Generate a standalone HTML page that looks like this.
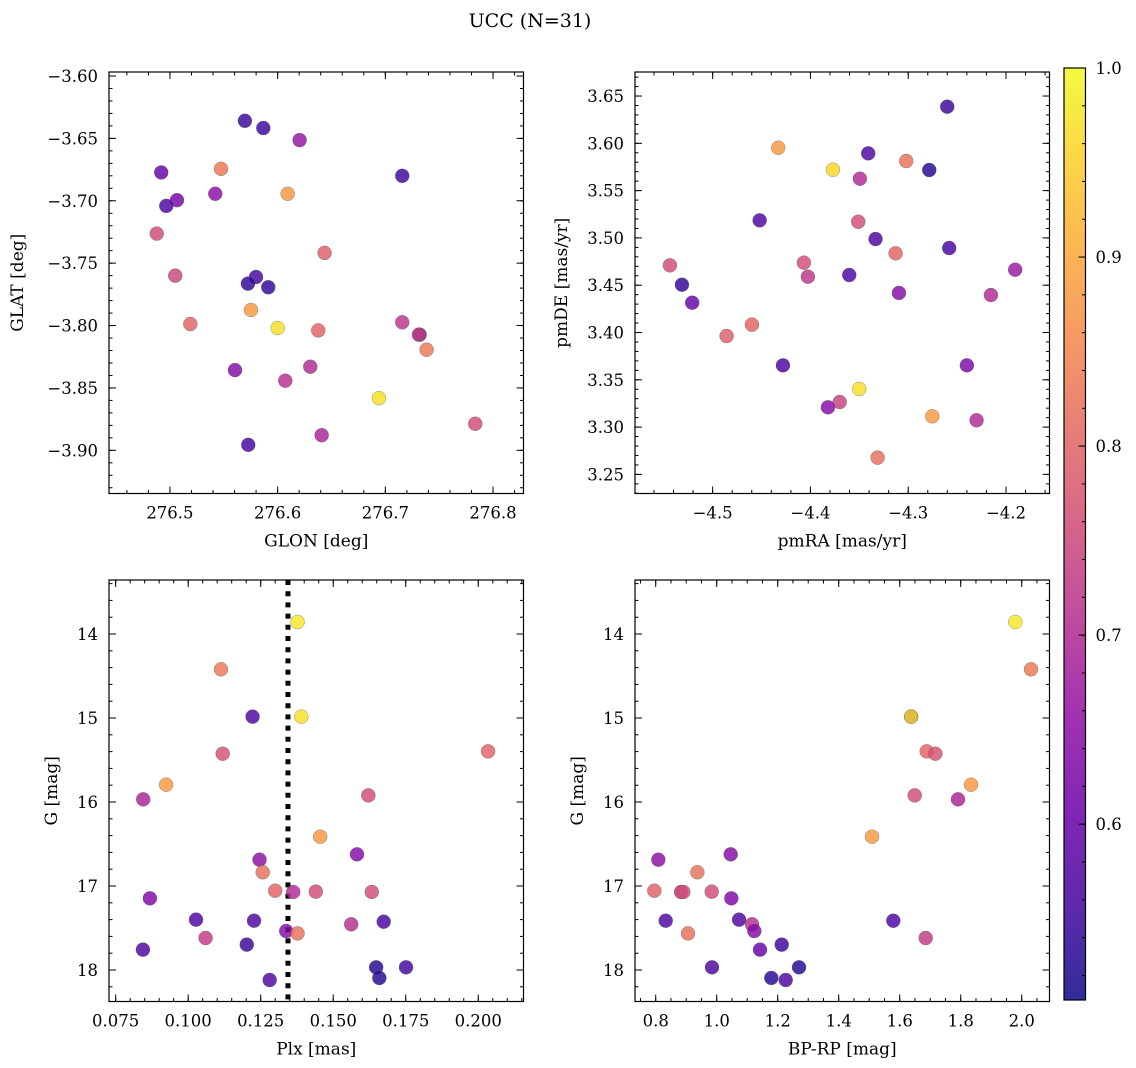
<!DOCTYPE html>
<html><head><meta charset="utf-8">
<style>
html,body{margin:0;padding:0;background:#fff;}
svg{display:block;font-family:"DejaVu Serif","Liberation Serif",serif;}
</style></head>
<body>
<svg id="chart" width="1136" height="1068" viewBox="0 0 1136 1068" xmlns="http://www.w3.org/2000/svg">
<defs>
<linearGradient id="plasma" x1="0" y1="1" x2="0" y2="0"></linearGradient>
</defs>
<text x="530" y="27" text-anchor="middle" font-size="19">UCC (N=31)</text>
<g id="plots"></g>
</svg>
<script>
// ---- Panel 1: GLON vs GLAT ----
const glon = [276.5696,276.5867,276.6204,276.4919,276.5474,276.7157,276.5421,276.6093,276.5065,276.4966,276.4877,276.6436,276.5049,276.5799,276.5724,276.5913,276.5752,276.5189,276.6000,276.6377,276.7157,276.7318,276.7312,276.7383,276.5604,276.6303,276.6071,276.6941,276.7835,276.5727,276.6409];
const glat = [-3.6359,-3.6417,-3.6514,-3.6773,-3.6744,-3.6800,-3.6944,-3.6944,-3.6995,-3.7041,-3.7263,-3.7418,-3.7600,-3.7611,-3.7664,-3.7693,-3.7875,-3.7988,-3.8020,-3.8039,-3.7974,-3.8073,-3.8073,-3.8194,-3.8357,-3.8330,-3.8442,-3.8582,-3.8787,-3.8956,-3.8879];
const probTL = [0.55,0.55,0.66,0.60,0.83,0.55,0.65,0.88,0.62,0.57,0.76,0.79,0.75,0.56,0.54,0.54,0.88,0.80,0.97,0.80,0.72,0.55,0.74,0.83,0.64,0.70,0.71,0.97,0.76,0.56,0.69];
// ---- Panel 2: pmRA vs pmDE ----
const pmra = [-4.2601,-4.4329,-4.3409,-4.3020,-4.3770,-4.2785,-4.3494,-4.4519,-4.3511,-4.3334,-4.3129,-4.2581,-4.5437,-4.4067,-4.4026,-4.3603,-4.1906,-4.5314,-4.5209,-4.3095,-4.2154,-4.4598,-4.4857,-4.4281,-4.2400,-4.3501,-4.3701,-4.3821,-4.2754,-4.2301,-4.3313];
const pmde = [3.6387,3.5953,3.5894,3.5813,3.5721,3.5718,3.5626,3.5186,3.5171,3.4988,3.4837,3.4893,3.4710,3.4738,3.4590,3.4608,3.4664,3.4505,3.4315,3.4418,3.4396,3.4083,3.3963,3.3653,3.3653,3.3403,3.3265,3.3209,3.3114,3.3072,3.2677];
const probTR = [0.55,0.88,0.57,0.82,0.96,0.53,0.70,0.57,0.76,0.57,0.80,0.56,0.76,0.76,0.72,0.57,0.67,0.54,0.60,0.64,0.70,0.80,0.79,0.57,0.63,0.97,0.74,0.64,0.88,0.70,0.82];
// ---- Panel 3: Plx vs G ----
const plx = [0.1377,0.1113,0.1222,0.1390,0.1119,0.2034,0.0924,0.0845,0.1621,0.1455,0.1582,0.1246,0.1257,0.1300,0.1362,0.1440,0.1633,0.0868,0.1027,0.1227,0.1562,0.1674,0.1338,0.1377,0.1060,0.1202,0.0844,0.1648,0.1751,0.1659,0.1281];
const gPlx = [13.857,14.420,14.984,14.984,15.425,15.397,15.794,15.968,15.921,16.413,16.623,16.687,16.837,17.056,17.071,17.067,17.071,17.147,17.401,17.413,17.456,17.425,17.536,17.564,17.619,17.698,17.758,17.968,17.968,18.095,18.119];
const probBL = [0.98,0.83,0.57,0.97,0.77,0.80,0.88,0.69,0.76,0.88,0.64,0.65,0.82,0.80,0.70,0.76,0.76,0.63,0.57,0.57,0.71,0.56,0.64,0.82,0.73,0.55,0.57,0.53,0.56,0.53,0.57];
const plxLine = [0.1344];
// ---- Panel 4: BP-RP vs G ----
const bprp = [1.979,2.0305,1.6374,1.6374,1.6885,1.7168,1.8338,1.7911,1.6492,1.5092,1.0459,0.8086,0.9365,0.7955,0.8830,0.8906,0.9836,1.0480,0.8328,1.0732,1.5790,1.1157,1.1233,0.9059,1.6852,1.1420,1.2131,0.9846,1.2698,1.1790,1.2262];
const gCmd = [13.857,14.420,14.984,14.984,15.397,15.425,15.794,15.968,15.921,16.413,16.623,16.687,16.837,17.056,17.071,17.071,17.067,17.147,17.413,17.401,17.413,17.456,17.536,17.564,17.619,17.758,17.698,17.968,17.968,18.095,18.119];
const probBR = [0.98,0.83,0.57,0.97,0.80,0.77,0.88,0.69,0.76,0.88,0.64,0.65,0.82,0.80,0.73,0.76,0.76,0.63,0.57,0.57,0.57,0.71,0.64,0.82,0.73,0.60,0.55,0.57,0.53,0.53,0.57];
// ---- Tick labels ----
const ticksGlon = [276.5,276.6,276.7,276.8];
const ticksGlat = [-3.60,-3.65,-3.70,-3.75,-3.80,-3.85,-3.90];
const ticksPmra = [-4.5,-4.4,-4.3,-4.2];
const ticksPmde = [3.25,3.30,3.35,3.40,3.45,3.50,3.55,3.60,3.65];
const ticksPlx = [0.075,0.100,0.125,0.150,0.175,0.200];
const ticksG = [14,15,16,17,18];
const ticksBprp = [0.8,1.0,1.2,1.4,1.6,1.8,2.0];
const ticksCbar = [0.6,0.7,0.8,0.9,1.0];

const NS = "http://www.w3.org/2000/svg";
const root = document.getElementById('plots');
const plasmaStops = [[0,'#0d0887'],[0.1,'#41049d'],[0.2,'#6a00a8'],[0.3,'#8f0da4'],[0.4,'#b12a90'],[0.5,'#cc4778'],[0.6,'#e16462'],[0.7,'#f2844b'],[0.8,'#fca636'],[0.9,'#fcce25'],[1,'#f0f921']];
const VMIN = 0.507, VMAX = 1.0;
const TICKFS = 16.5, LABFS = 17;
function hex(c){return [parseInt(c.substr(1,2),16),parseInt(c.substr(3,2),16),parseInt(c.substr(5,2),16)];}
function plasma(t){
  t=Math.max(0,Math.min(1,t));
  for(let i=0;i<plasmaStops.length-1;i++){
    const a=plasmaStops[i],b=plasmaStops[i+1];
    if(t<=b[0]){const f=(t-a[0])/(b[0]-a[0]);const ca=hex(a[1]),cb=hex(b[1]);
      return 'rgb('+ca.map((v,k)=>Math.round(v+(cb[k]-v)*f)).join(',')+')';}
  }
  return plasmaStops[plasmaStops.length-1][1];
}
function cmap(v){return plasma((v-VMIN)/(VMAX-VMIN));}
function mk(tag,attrs,parent){const e=document.createElementNS(NS,tag);for(const k in attrs)e.setAttribute(k,attrs[k]);(parent||root).appendChild(e);return e;}
function fmt(v,d){const s=Math.abs(v).toFixed(d);return (v<0?'\u2212':'')+s;}

function panel(cfg){
  const g=mk('g',{});
  
  
  const {x0,x1,y0,y1,xd,yd}=cfg;
  const sx=v=>x0+(v-xd[0])/(xd[1]-xd[0])*(x1-x0);
  const sy=v=>cfg.yInv? y0+(v-yd[0])/(yd[1]-yd[0])*(y1-y0) : y1-(v-yd[0])/(yd[1]-yd[0])*(y1-y0);
  const tk=mk('g',{stroke:'#000','stroke-width':1},g);
  
  
  const lo=Math.min(...xd),hi=Math.max(...xd);
  for(let v=Math.ceil(lo/cfg.xMinor)*cfg.xMinor; v<=hi; v+=cfg.xMinor){const px=sx(v);
    mk('line',{x1:px,x2:px,y1:y1,y2:y1-3.5},tk);mk('line',{x1:px,x2:px,y1:y0,y2:y0+3.5},tk);}
  const ylo=Math.min(...yd),yhi=Math.max(...yd);
  for(let v=Math.ceil(ylo/cfg.yMinor)*cfg.yMinor; v<=yhi; v+=cfg.yMinor){const py=sy(v);
    mk('line',{x1:x0,x2:x0+3.5,y1:py,y2:py},tk);mk('line',{x1:x1,x2:x1-3.5,y1:py,y2:py},tk);}
  cfg.xt.forEach(v=>{const px=sx(v);
    mk('line',{x1:px,x2:px,y1:y1,y2:y1-7},tk);mk('line',{x1:px,x2:px,y1:y0,y2:y0+7},tk);
    const t=mk('text',{x:px,y:y1+25,'text-anchor':'middle','font-size':TICKFS},g);t.textContent=fmt(v,cfg.xd_dec);
    
    });
  cfg.yt.forEach(v=>{const py=sy(v);
    mk('line',{x1:x0,x2:x0+7,y1:py,y2:py},tk);mk('line',{x1:x1,x2:x1-7,y1:py,y2:py},tk);
    const t=mk('text',{x:x0-11,y:py+6,'text-anchor':'end','font-size':TICKFS},g);t.textContent=fmt(v,cfg.yd_dec);
    
    });
  if(cfg.vline){cfg.vline.forEach(v=>{const l=mk('line',{x1:sx(v),x2:sx(v),y1:y0,y2:y1,stroke:'#000','stroke-width':5,'stroke-dasharray':'5 6.2'},g);
    
    });}
  const pts=mk('g',{},g);
  
  
  cfg.xs.forEach((xv,i)=>{
    const c=mk('circle',{cx:sx(xv),cy:sy(cfg.ys[i]),r:7,fill:cmap(cfg.cs[i]),'fill-opacity':0.82,stroke:'#555','stroke-opacity':0.6,'stroke-width':0.5},pts);
    
    
  });
  const fr=mk('rect',{x:x0,y:y0,width:x1-x0,height:y1-y0,fill:'none',stroke:'#000','stroke-width':1.2},g);
  
  
  const xl=mk('text',{x:(x0+x1)/2,y:y1+53,'text-anchor':'middle','font-size':LABFS},g);xl.textContent=cfg.xlab;
  
  
  const yx=cfg.ylabX, yy=(y0+y1)/2;
  const yl=mk('text',{x:yx,y:yy,'text-anchor':'middle','font-size':LABFS,transform:'rotate(-90 '+yx+' '+yy+')'},g);yl.textContent=cfg.ylab;
  
  
}

panel({name:'glon-glat-panel',x0:109,x1:523.5,y0:72,y1:493.5,xd:[276.4434,276.8283],yd:[-3.9346,-3.5968],
  xt:ticksGlon,yt:ticksGlat,xMinor:0.02,yMinor:0.01,xd_dec:1,yd_dec:2,xs:glon,ys:glat,cs:probTL,
  xlab:'GLON [deg]',ylab:'GLAT [deg]',ylabX:23});
panel({name:'pm-panel',x0:635,x1:1049.5,y0:72,y1:493.5,xd:[-4.5794,-4.1555],yd:[3.2298,3.6754],
  xt:ticksPmra,yt:ticksPmde,xMinor:0.02,yMinor:0.01,xd_dec:1,yd_dec:2,xs:pmra,ys:pmde,cs:probTR,
  xlab:'pmRA [mas/yr]',ylab:'pmDE [mas/yr]',ylabX:567});
panel({name:'plx-g-panel',x0:109,x1:523.5,y0:580,y1:1001.5,xd:[0.0727,0.2156],yd:[13.357,18.375],yInv:true,
  xt:ticksPlx,yt:ticksG,xMinor:0.005,yMinor:0.2,xd_dec:3,yd_dec:0,xs:plx,ys:gPlx,cs:probBL,vline:plxLine,
  xlab:'Plx [mas]',ylab:'G [mag]',ylabX:57});
panel({name:'cmd-panel',x0:635,x1:1049.5,y0:580,y1:1001.5,xd:[0.7321,2.0911],yd:[13.357,18.375],yInv:true,
  xt:ticksBprp,yt:ticksG,xMinor:0.05,yMinor:0.2,xd_dec:1,yd_dec:0,xs:bprp,ys:gCmd,cs:probBR,
  xlab:'BP-RP [mag]',ylab:'G [mag]',ylabX:583});

(function(){
  const grad=document.getElementById('plasma');
  for(let i=0;i<=20;i++){const s=document.createElementNS(NS,'stop');s.setAttribute('offset',i/20);s.setAttribute('stop-color',plasma(i/20));grad.appendChild(s);}
  const g=mk('g',{});
  
  
  const cx0=1064,cx1=1085.5,cy0=68,cy1=1000;
  const sy=v=>cy1-(v-VMIN)/(VMAX-VMIN)*(cy1-cy0);
  mk('rect',{x:cx0,y:cy0,width:cx1-cx0,height:cy1-cy0,fill:'url(#plasma)','fill-opacity':0.85},g);
  for(let v=0.52; v<=1.0001; v+=0.02){const py=sy(v);mk('line',{x1:cx1,x2:cx1-3.5,y1:py,y2:py,stroke:'#000'},g);}
  ticksCbar.forEach(v=>{const py=sy(v);mk('line',{x1:cx1,x2:cx1-7,y1:py,y2:py,stroke:'#000'},g);
    const t=mk('text',{x:cx1+10,y:py+6,'font-size':TICKFS},g);t.textContent=v.toFixed(1);
    
    });
  mk('rect',{x:cx0,y:cy0,width:cx1-cx0,height:cy1-cy0,fill:'none',stroke:'#000','stroke-width':1.2},g);
})();
</script>
</body></html>
